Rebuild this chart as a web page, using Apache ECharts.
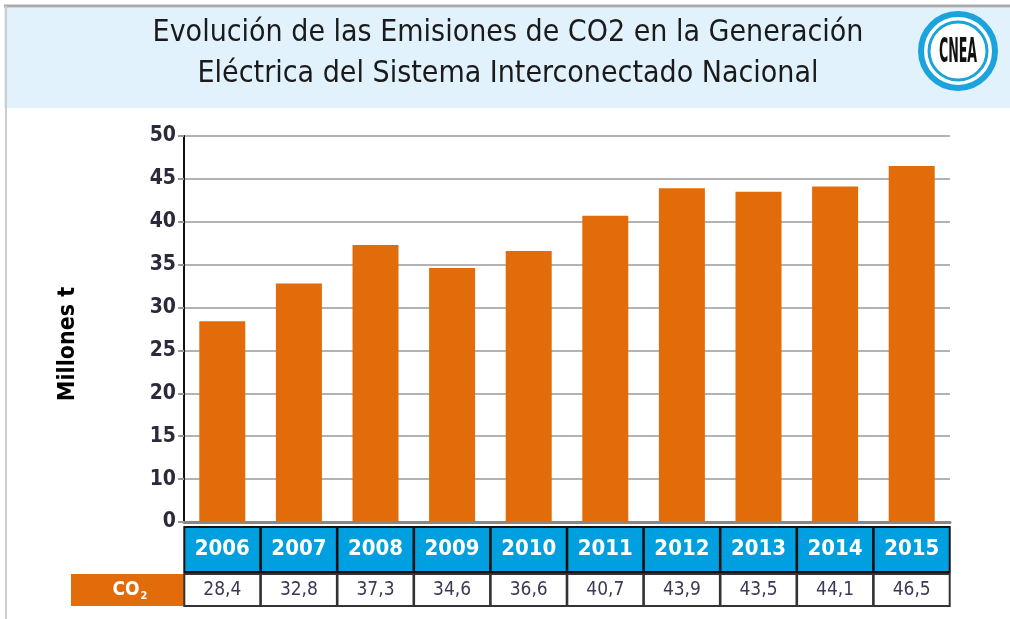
<!DOCTYPE html>
<html><head><meta charset="utf-8">
<script src="https://cdn.jsdelivr.net/npm/echarts@6/dist/echarts.min.js"></script>
<style>html,body{margin:0;padding:0;background:#fff}#c{width:1010px;height:619px}</style>
</head><body><div id="c"></div>
<script>
const years = ['2006','2007','2008','2009','2010','2011','2012','2013','2014','2015'];
const co2 = [28.4, 32.8, 37.3, 34.6, 36.6, 40.7, 43.9, 43.5, 44.1, 46.5];
const yTicks = [5, 10, 15, 20, 25, 30, 35, 40, 45, 50];
const titleLines = ['Evolución de las Emisiones de CO2 en la Generación', 'Eléctrica del Sistema Interconectado Nacional'];
const yName = 'Millones t';
const rowLabel = 'CO';

const FONT = "'DejaVu Sans Condensed','Roboto',sans-serif";
const chart = echarts.init(document.getElementById('c'));
chart.setOption({
  backgroundColor: '#fff',
  animation: false,
  title: {
    text: titleLines.join('\n'), left: 503, top: 8, textAlign: 'center',
    textStyle: {fontFamily: FONT, fontSize: 30, fontWeight: 'normal', color: '#1a1a1a', lineHeight: 41}
  },
  graphic: [
    {type: 'rect', z: -10, shape: {x: 4, y: 8, width: 1006, height: 100}, style: {fill: '#e2f2fc'}},
    {type: 'line', z: -5, shape: {x1: 4, y1: 6, x2: 1010, y2: 6}, style: {stroke: '#aaa', lineWidth: 3}},
    {type: 'line', z: -5, shape: {x1: 6, y1: 6, x2: 6, y2: 619}, style: {stroke: '#ccc', lineWidth: 2}},
    {type: 'circle', shape: {cx: 958, cy: 51, r: 37}, style: {fill: '#fff', stroke: '#1aa3dc', lineWidth: 6}},
    {type: 'circle', shape: {cx: 958, cy: 51, r: 29}, style: {fill: '#fff', stroke: '#1aa3dc', lineWidth: 3}},
    {type: 'text', x: 958, y: 53, scaleX: 0.7, scaleY: 1.7, z: 10,
     style: {text: 'CNEA', fontFamily: FONT, fontSize: 20, fontWeight: 'bold', fill: '#111', align: 'center', verticalAlign: 'middle'}},
    {type: 'rect', z: -1, shape: {x: 71, y: 574, width: 122, height: 32}, style: {fill: '#e36c0a'}},
    {type: 'text', x: 130, y: 590, style: {text: '{a|' + rowLabel + '}{b|2}', align: 'center', verticalAlign: 'middle',
      rich: {a: {fontFamily: FONT, fontSize: 19, fontWeight: 'bold', fill: '#fff'},
             b: {fontFamily: FONT, fontSize: 11, fontWeight: 'bold', fill: '#fff', padding: [12, 0, 0, 1]}}}}
  ],
  grid: {left: 184, right: 60, top: 136, bottom: 97, containLabel: false},
  xAxis: [
    {type: 'category', data: years, position: 'bottom',
     axisLine: {show: true, lineStyle: {color: '#888', width: 3}},
     axisTick: {show: false},
     axisLabel: {interval: 0, margin: 6, width: 74, height: 43, lineHeight: 43, align: 'center',
       backgroundColor: '#009fdf', borderColor: '#111', borderWidth: 2,
       color: '#fff', fontFamily: FONT, fontSize: 22, fontWeight: 'bold'}},
    {type: 'category', data: years, position: 'bottom', offset: 53,
     axisLine: {show: false}, axisTick: {show: false},
     axisLabel: {interval: 0, margin: 0, width: 74, height: 30, lineHeight: 30, align: 'center',
       backgroundColor: '#fff', borderColor: '#333', borderWidth: 2,
       color: '#3a3a55', fontFamily: FONT, fontSize: 19,
       formatter: (v, i) => co2[i].toFixed(1).replace('.', ',')}}
  ],
  yAxis: {
    type: 'value', min: yTicks[0], max: yTicks[yTicks.length - 1], interval: 5,
    name: yName, nameLocation: 'middle', nameGap: 104, nameRotate: 90,
    nameTextStyle: {fontFamily: FONT, fontSize: 23, fontWeight: 'bold', color: '#000', padding: [0, 30, 0, 0]},
    axisLine: {show: true, lineStyle: {color: '#111', width: 2}},
    axisTick: {show: true, length: 6, lineStyle: {color: '#999', width: 2}},
    axisLabel: {margin: 8, fontFamily: FONT, fontSize: 21, fontWeight: 'bold', color: '#2a2a3a',
      formatter: v => v === yTicks[0] ? '0' : String(v)},
    splitLine: {show: true, lineStyle: {color: '#b3b3b3', width: 2}}
  },
  series: [{
    type: 'bar', data: co2, xAxisIndex: 0, barWidth: 46,
    itemStyle: {color: '#e36c0a'}
  }]
});
</script></body></html>
